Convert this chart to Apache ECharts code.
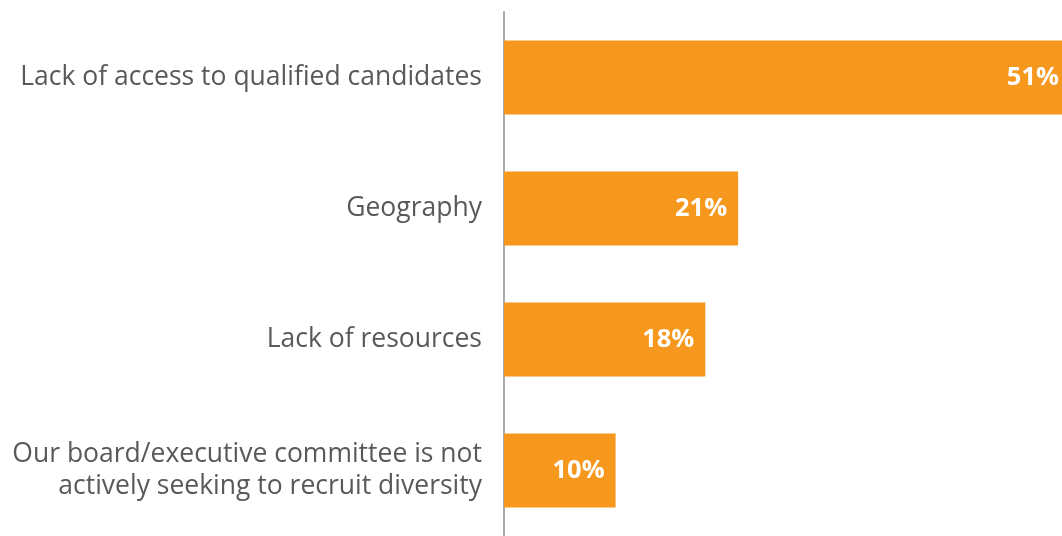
<!DOCTYPE html>
<html>
<head>
<meta charset="utf-8">
<script src="https://cdn.jsdelivr.net/npm/echarts@6/dist/echarts.min.js"></script>
<style>html,body{margin:0;padding:0;background:#fff}#c{width:1062px;height:536px}</style>
</head>
<body>
<div id="c"></div>
<script>
const categories = [
  "Lack of access to qualified candidates",
  "Geography",
  "Lack of resources",
  "Our board/executive committee is not\nactively seeking to recruit diversity"
];
const values = [51, 21.4, 18.4, 10.2];
const valueLabels = ["51%", "21%", "18%", "10%"];

const chart = echarts.init(document.getElementById('c'));
chart.setOption({
  animation: false,
  grid: { left: 504, right: 0, top: 12, bottom: -4, containLabel: false },
  xAxis: { type: 'value', min: 0, max: 51, show: false },
  yAxis: {
    type: 'category',
    data: categories,
    inverse: true,
    axisLine: { show: true, lineStyle: { color: '#ababab', width: 2 } },
    axisTick: { show: false },
    axisLabel: {
      color: '#595959', fontSize: 26.5, fontFamily: 'Open Sans', margin: 22,
      lineHeight: 32, align: 'right'
    }
  },
  series: [{
    type: 'bar',
    data: values.map((v, i) => i === 0 ? { value: v, label: { distance: 3 } } : v),
    barWidth: 74,
    itemStyle: { color: '#F7981E' },
    label: {
      show: true, position: 'insideRight', distance: 11,
      color: '#fff', fontWeight: 'bold', fontSize: 25.5, fontFamily: 'Open Sans',
      formatter: p => valueLabels[p.dataIndex]
    }
  }]
});
</script>
</body>
</html>
